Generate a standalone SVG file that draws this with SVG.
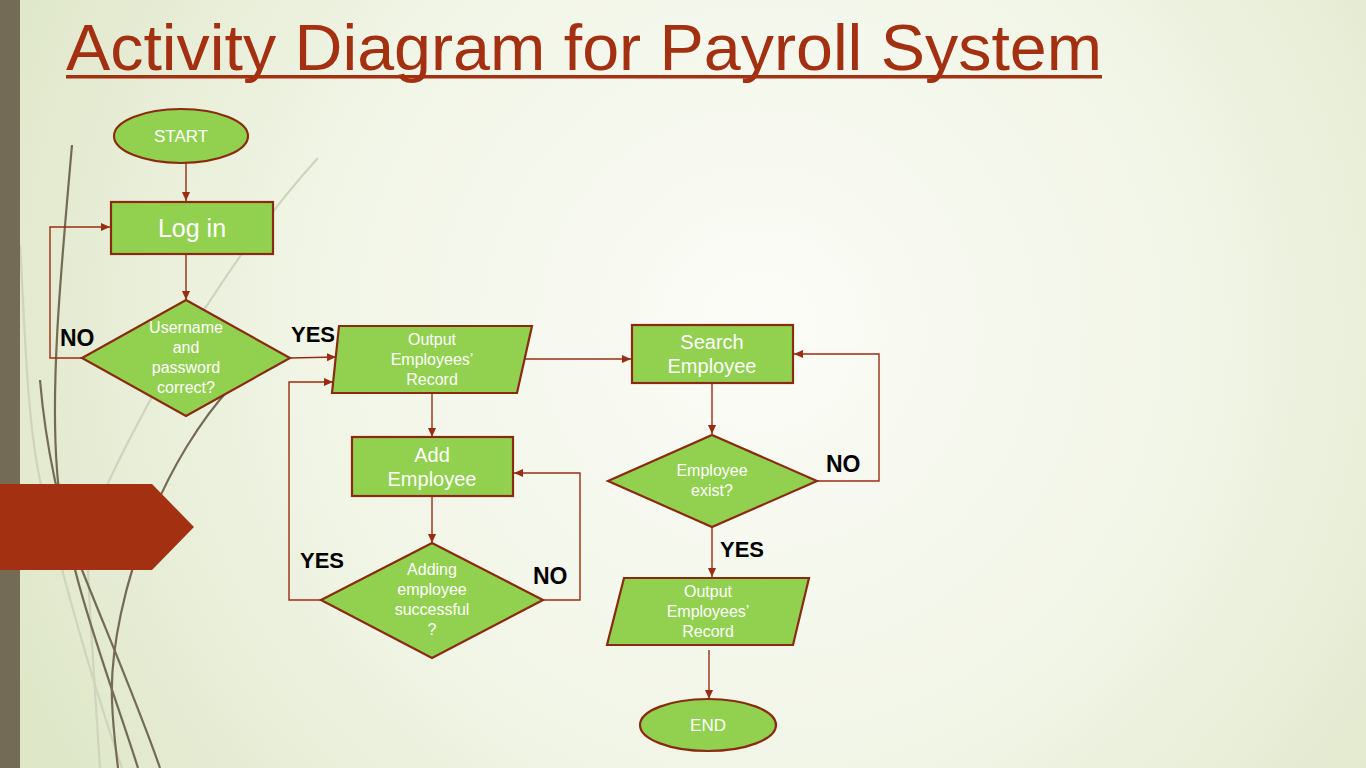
<svg xmlns="http://www.w3.org/2000/svg" width="1366" height="768" viewBox="0 0 1366 768">
<defs>
<radialGradient id="bg" cx="760" cy="330" r="820" gradientUnits="userSpaceOnUse">
<stop offset="0" stop-color="#fbfcf7"/>
<stop offset="0.55" stop-color="#f1f5e6"/>
<stop offset="1" stop-color="#dfe7c9"/>
</radialGradient>
<marker id="ah" markerWidth="10" markerHeight="10" refX="9" refY="5" orient="auto" markerUnits="userSpaceOnUse">
<path d="M0,1 L9,5 L0,9 z" fill="#9a2c12"/>
</marker>
<style>
.node{fill:#92d050;stroke:#8a2a10;stroke-width:2.2}
.t{font-family:"Liberation Sans","DejaVu Sans",sans-serif;fill:#ffffff;text-anchor:middle}
.lbl{font-family:"Liberation Sans","DejaVu Sans",sans-serif;font-weight:bold;font-size:23px;fill:#000000}
.yes{font-size:22px}
.c{fill:none;stroke:#9a2c12;stroke-width:1.4;marker-end:url(#ah)}
.dk{fill:none;stroke:#736b55;stroke-width:2.2}
.lt{fill:none;stroke:#cfd4bd;stroke-width:2.2}
</style>
</defs>
<rect x="0" y="0" width="1366" height="768" fill="url(#bg)"/>
<g id="decor">
<path class="lt" d="M318,158 C270,210 180,330 107,485"/>
<path class="lt" d="M20,245 C25,330 27,420 40,480 C60,570 95,690 122,768"/>
<path class="lt" d="M88,570 C90,620 95,690 100,768"/>
<path class="dk" d="M72,145 C62,260 50,380 57,470 C63,560 110,680 138,768" stroke-width="2"/>
<path class="dk" d="M40,380 C45,440 60,520 82,570 C110,640 140,710 160,768"/>
<path class="dk" d="M232,386 C200,420 170,470 150,520 C125,580 110,650 112,700 C113,730 116,750 118,768" stroke-width="2"/>
<rect x="0" y="0" width="20" height="768" fill="#736b55"/>
<path d="M0,484 L152,484 L194,527 L152,570 L0,570 z" fill="#a33011"/>
</g>
<g id="title">
<text x="66" y="70" font-family="'Liberation Sans','DejaVu Sans',sans-serif" font-size="64" fill="#a33011" textLength="1036" lengthAdjust="spacingAndGlyphs">Activity Diagram for Payroll System</text>
<rect x="66" y="75" width="1036" height="3.5" fill="#a33011"/>
</g>
<g id="connectors">
<path class="c" d="M186,163 L186,201"/>
<path class="c" d="M186,254 L186,300"/>
<path class="c" d="M82,358 L50,358 L50,227 L110,227"/>
<path class="c" d="M290,358 L336,357"/>
<path class="c" d="M432,393 L432,437"/>
<path class="c" d="M432,496 L432,543"/>
<path class="c" d="M321,600 L289,600 L289,382 L333,382"/>
<path class="c" d="M543,600 L580,600 L580,473 L514,473"/>
<path class="c" d="M524,359 L631,359"/>
<path class="c" d="M712,383 L712,434"/>
<path class="c" d="M817,481 L879,481 L879,354 L794,354"/>
<path class="c" d="M712,527 L712,577"/>
<path class="c" d="M709,650 L709,699"/>
</g>
<g id="start">
<ellipse class="node" cx="181" cy="136" rx="67" ry="27"/>
<text class="t" x="181" y="142" font-size="17">START</text>
</g>
<g id="login">
<rect class="node" x="111" y="202" width="162" height="52"/>
<text class="t" x="192" y="237" font-size="25">Log in</text>
</g>
<g id="check-login">
<polygon class="node" points="186,300 290,358 186,416 82,358"/>
<text class="t" font-size="16"><tspan x="186" y="333">Username</tspan><tspan x="186" y="353">and</tspan><tspan x="186" y="373">password</tspan><tspan x="186" y="393">correct?</tspan></text>
</g>
<g id="output1">
<polygon class="node" points="339,326 532,326 517,393 332,393"/>
<text class="t" font-size="16"><tspan x="432" y="345">Output</tspan><tspan x="432" y="365">Employees’</tspan><tspan x="432" y="385">Record</tspan></text>
</g>
<g id="add-employee">
<rect class="node" x="352" y="437" width="161" height="59"/>
<text class="t" font-size="20"><tspan x="432" y="462">Add</tspan><tspan x="432" y="486">Employee</tspan></text>
</g>
<g id="check-add">
<polygon class="node" points="432,543 543,600 432,658 321,600"/>
<text class="t" font-size="16"><tspan x="432" y="575">Adding</tspan><tspan x="432" y="595">employee</tspan><tspan x="432" y="615">successful</tspan><tspan x="432" y="635">?</tspan></text>
</g>
<g id="search-employee">
<rect class="node" x="632" y="325" width="161" height="58"/>
<text class="t" font-size="20"><tspan x="712" y="349">Search</tspan><tspan x="712" y="373">Employee</tspan></text>
</g>
<g id="check-exist">
<polygon class="node" points="712,435 817,481 712,527 608,481"/>
<text class="t" font-size="16"><tspan x="712" y="476">Employee</tspan><tspan x="712" y="496">exist?</tspan></text>
</g>
<g id="output2">
<polygon class="node" points="624,578 809,578 793,645 607,645"/>
<text class="t" font-size="16"><tspan x="708" y="597">Output</tspan><tspan x="708" y="617">Employees’</tspan><tspan x="708" y="637">Record</tspan></text>
</g>
<g id="end">
<ellipse class="node" cx="708" cy="725" rx="68" ry="26"/>
<text class="t" x="708" y="731" font-size="17">END</text>
</g>
<g id="labels">
<text class="lbl" x="60" y="346">NO</text>
<text class="lbl yes" x="291" y="342">YES</text>
<text class="lbl yes" x="300" y="568">YES</text>
<text class="lbl" x="533" y="584">NO</text>
<text class="lbl" x="826" y="472">NO</text>
<text class="lbl yes" x="720" y="557">YES</text>
</g>
</svg>
